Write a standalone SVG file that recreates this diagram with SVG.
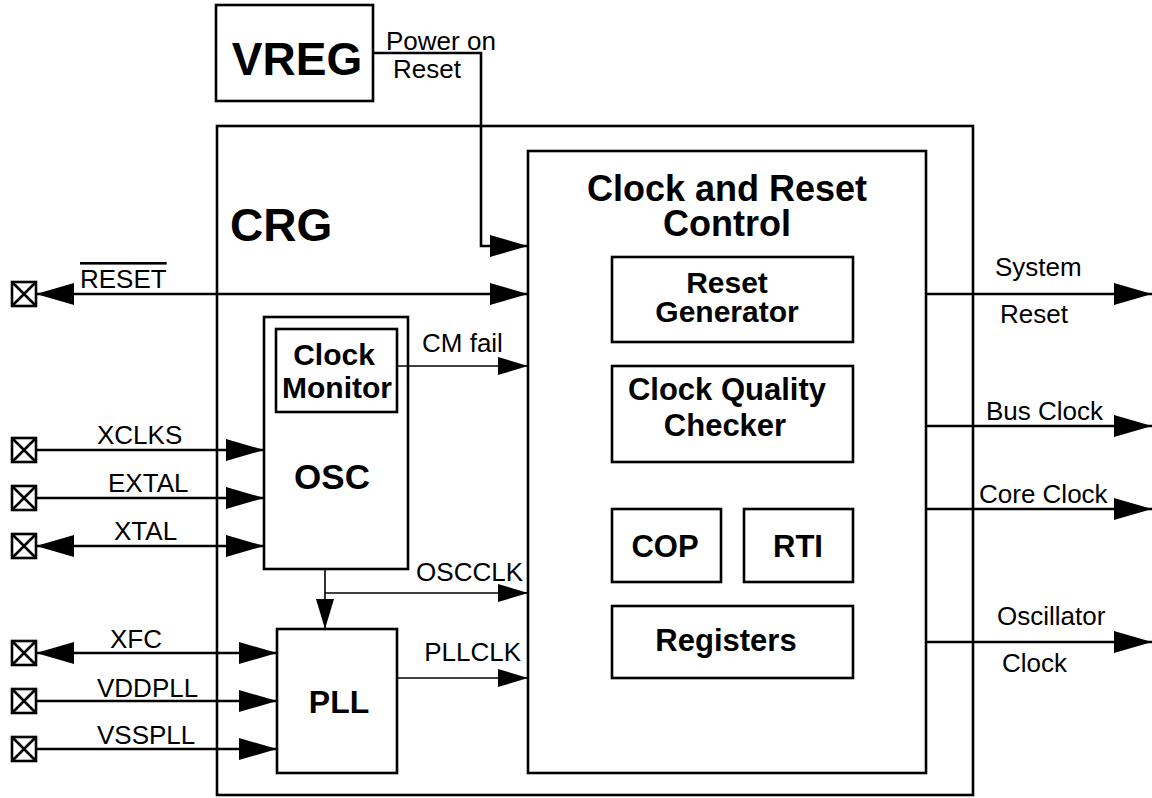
<svg xmlns="http://www.w3.org/2000/svg" width="1152" height="798" viewBox="0 0 1152 798">
<style>
.box{fill:none;stroke:#000;stroke-width:2.6}
.ln{fill:none;stroke:#000;stroke-width:2.6}
.thin{fill:none;stroke:#000;stroke-width:1.6}
.lbl{font-family:"Liberation Sans",Arial,sans-serif;font-size:26px;fill:#000}
.b{font-family:"Liberation Sans",Arial,sans-serif;font-weight:bold;fill:#000}
.pin{fill:#fff;stroke:#000;stroke-width:2.6}
</style>
<defs>
<marker id="big" markerUnits="userSpaceOnUse" markerWidth="40" markerHeight="22" refX="38" refY="11" orient="auto-start-reverse">
<path d="M0,0 L38,11 L0,22 z" fill="#000"/>
</marker>
<marker id="small" markerUnits="userSpaceOnUse" markerWidth="32" markerHeight="18" refX="30" refY="9" orient="auto-start-reverse">
<path d="M0,0 L30,9 L0,18 z" fill="#000"/>
</marker>
<g id="pinshape">
<rect x="-12" y="-12" width="24" height="24" class="pin"/>
<path d="M-12,-12 L12,12 M12,-12 L-12,12" class="ln"/>
</g>
</defs>

<g id="vreg">
<rect x="216" y="5" width="157" height="96" class="box"/>
<text x="297" y="75" class="b" font-size="46" text-anchor="middle">VREG</text>
</g>

<g id="crg">
<rect x="217" y="126" width="756" height="669" class="box"/>
<text x="230" y="241" class="b" font-size="46">CRG</text>
</g>

<g id="crc">
<rect x="528" y="151" width="398" height="622" class="box"/>
<text x="727" y="201" class="b" font-size="36" text-anchor="middle">Clock and Reset</text>
<text x="727" y="236" class="b" font-size="36" text-anchor="middle">Control</text>
</g>

<g id="resetgen">
<rect x="612" y="257" width="241" height="85" class="box"/>
<text x="727" y="293" class="b" font-size="30" text-anchor="middle">Reset</text>
<text x="727" y="322" class="b" font-size="30" text-anchor="middle">Generator</text>
</g>

<g id="cqc">
<rect x="612" y="366" width="241" height="96" class="box"/>
<text x="727" y="400" class="b" font-size="31" text-anchor="middle">Clock Quality</text>
<text x="725" y="436" class="b" font-size="31" text-anchor="middle">Checker</text>
</g>

<g id="cop">
<rect x="612" y="509" width="109" height="73" class="box"/>
<text x="665" y="557" class="b" font-size="31" text-anchor="middle">COP</text>
</g>

<g id="rti">
<rect x="744" y="509" width="109" height="73" class="box"/>
<text x="798" y="557" class="b" font-size="31" text-anchor="middle">RTI</text>
</g>

<g id="registers">
<rect x="612" y="606" width="241" height="72" class="box"/>
<text x="726" y="651" class="b" font-size="31" text-anchor="middle">Registers</text>
</g>

<g id="osc">
<rect x="264" y="317" width="144" height="252" class="box"/>
<text x="332" y="489" class="b" font-size="35" text-anchor="middle">OSC</text>
</g>

<g id="clockmonitor">
<rect x="276" y="329" width="121" height="83" class="box"/>
<text x="334" y="365" class="b" font-size="30" text-anchor="middle">Clock</text>
<text x="337" y="398" class="b" font-size="30" text-anchor="middle">Monitor</text>
</g>

<g id="pll">
<rect x="277" y="629" width="120" height="144" class="box"/>
<text x="339" y="713" class="b" font-size="32" text-anchor="middle">PLL</text>
</g>

<g id="pins">
<use href="#pinshape" x="24" y="294"/>
<use href="#pinshape" x="24" y="450"/>
<use href="#pinshape" x="24" y="498"/>
<use href="#pinshape" x="24" y="546"/>
<use href="#pinshape" x="24" y="653"/>
<use href="#pinshape" x="24" y="701"/>
<use href="#pinshape" x="24" y="749"/>
</g>

<g id="connectors">
<path d="M373,53 L481,53 L481,246 L528,246" class="ln" marker-end="url(#big)"/>
<path d="M36,294 L528,294" class="ln" marker-start="url(#big)" marker-end="url(#big)"/>
<path d="M397,366 L528,366" class="thin" marker-end="url(#small)"/>
<path d="M36,450 L264,450" class="ln" marker-end="url(#big)"/>
<path d="M36,498 L264,498" class="ln" marker-end="url(#big)"/>
<path d="M36,546 L264,546" class="ln" marker-start="url(#big)" marker-end="url(#big)"/>
<path d="M325,569 L325,629" class="thin" marker-end="url(#small)"/>
<path d="M325,593 L528,593" class="thin" marker-end="url(#small)"/>
<path d="M36,653 L277,653" class="ln" marker-start="url(#big)" marker-end="url(#big)"/>
<path d="M36,701 L277,701" class="ln" marker-end="url(#big)"/>
<path d="M36,749 L277,749" class="ln" marker-end="url(#big)"/>
<path d="M397,678 L528,678" class="thin" marker-end="url(#small)"/>
<path d="M926,294 L1152,294" class="ln" marker-end="url(#big)"/>
<path d="M926,426 L1152,426" class="ln" marker-end="url(#big)"/>
<path d="M926,509 L1152,509" class="ln" marker-end="url(#big)"/>
<path d="M926,642 L1152,642" class="ln" marker-end="url(#big)"/>
</g>

<g id="labels">
<text x="386" y="50" class="lbl" font-size="25">Power on</text>
<text x="393" y="78" class="lbl" font-size="25">Reset</text>
<text x="80" y="288" class="lbl" text-decoration="overline">RESET</text>
<text x="422" y="352" class="lbl">CM fail</text>
<text x="97" y="444" class="lbl">XCLKS</text>
<text x="108" y="492" class="lbl">EXTAL</text>
<text x="114" y="540" class="lbl">XTAL</text>
<text x="523" y="581" class="lbl" text-anchor="end">OSCCLK</text>
<text x="110" y="648" class="lbl">XFC</text>
<text x="97" y="697" class="lbl">VDDPLL</text>
<text x="97" y="744" class="lbl">VSSPLL</text>
<text x="521" y="661" class="lbl" text-anchor="end">PLLCLK</text>
<text x="995" y="276" class="lbl">System</text>
<text x="1000" y="323" class="lbl">Reset</text>
<text x="986" y="420" class="lbl">Bus Clock</text>
<text x="979" y="503" class="lbl">Core Clock</text>
<text x="997" y="625" class="lbl">Oscillator</text>
<text x="1002" y="672" class="lbl">Clock</text>
</g>
</svg>
